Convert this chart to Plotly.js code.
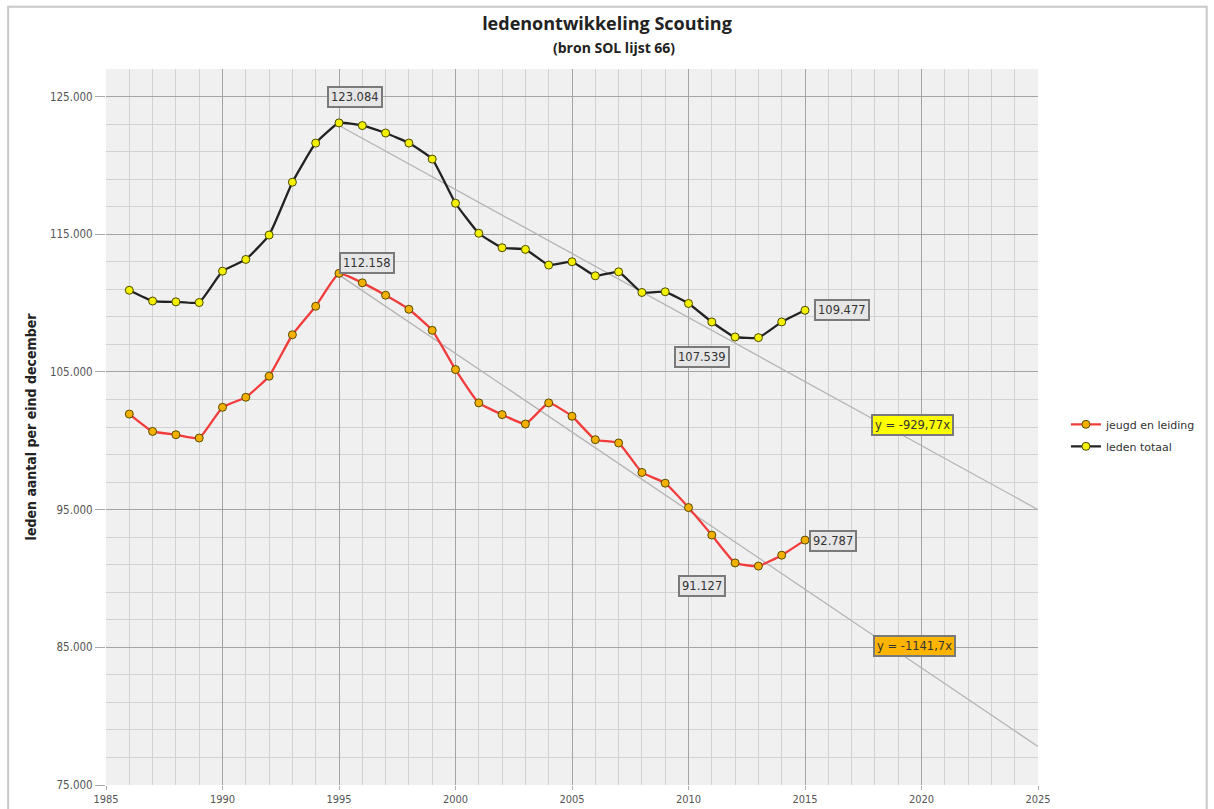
<!DOCTYPE html>
<html>
<head>
<meta charset="utf-8">
<script src="https://cdn.plot.ly/plotly-3.0.1.min.js"></script>
<style>html,body{margin:0;padding:0;background:#fff;}#chart{width:1214px;height:809px;}</style>
</head>
<body>
<div id="chart"></div>
<script>
const years = [1986,1987,1988,1989,1990,1991,1992,1993,1994,1995,1996,1997,1998,1999,2000,2001,2002,2003,2004,2005,2006,2007,2008,2009,2010,2011,2012,2013,2014,2015];
const ledenTotaal = [110930,110150,110090,110040,112320,113170,114940,118780,121620,123084,122890,122350,121620,120460,117250,115070,114020,113900,112760,113000,111980,112270,110770,110820,109970,108630,107539,107490,108630,109477];
const jeugdEnLeiding = [101940,100680,100440,100200,102430,103160,104690,107700,109770,112158,111470,110570,109550,108020,105170,102750,101900,101220,102750,101780,100080,99840,97700,96920,95150,93150,91127,90900,91690,92787];
const trendYears = [1995, 2025];
const trendTotaal = [122900, 95000];
const trendJeugd = [112050, 77800];
const yTicks = [75000, 85000, 95000, 105000, 115000, 125000];
const xTicks = [1985, 1990, 1995, 2000, 2005, 2010, 2015, 2020, 2025];

const labelFont = {family: 'DejaVu Sans', size: 11.5, color: '#333'};
function box(x, y, text, bg) {
  return {x: x, y: y, xref: 'x', yref: 'y', text: text, showarrow: false,
    bgcolor: bg || '#e6e6e6', bordercolor: '#7a7a7a', borderwidth: 2, borderpad: 2,
    font: labelFont};
}

const traces = [
  {x: trendYears, y: trendTotaal, mode: 'lines', line: {color: '#b4b4b4', width: 1.3}, showlegend: false, hoverinfo: 'skip'},
  {x: trendYears, y: trendJeugd, mode: 'lines', line: {color: '#b4b4b4', width: 1.3}, showlegend: false, hoverinfo: 'skip'},
  {x: years, y: jeugdEnLeiding, name: 'jeugd en leiding', legendgroup: 'a', mode: 'lines+markers',
   line: {color: '#f23c3c', width: 2.3, shape: 'spline', smoothing: 0.4},
   marker: {color: '#f2b000', size: 8, line: {color: '#5a4a00', width: 1}}},
  {x: years, y: ledenTotaal, name: 'leden totaal', legendgroup: 'b', mode: 'lines+markers',
   line: {color: '#222', width: 2.3, shape: 'spline', smoothing: 0.4},
   marker: {color: '#f5f000', size: 8, line: {color: '#4a4a00', width: 1}}}
];

const layout = {
  width: 1214, height: 809,
  margin: {l: 106, r: 176, t: 69, b: 24},
  paper_bgcolor: '#ffffff',
  plot_bgcolor: '#f0f0f0',
  separators: ',.',
  font: {family: 'Liberation Sans Narrow, DejaVu Sans Condensed, sans-serif', color: '#444'},
  title: {text: '<b>ledenontwikkeling Scouting</b>', x: 0.5, xref: 'container', y: 0.9703, yanchor: 'middle',
    font: {family: 'Open Sans, sans-serif', size: 18, color: '#222'}},
  xaxis: {range: [1985, 2025], tickvals: xTicks, tickformat: 'd', ticks: 'outside', ticklen: 4, tickcolor: '#aaa',
    showgrid: true, gridcolor: '#a4a4a4', gridwidth: 1,
    minor: {dtick: 1, tick0: 1985, showgrid: true, gridcolor: '#d2d2d2', gridwidth: 1},
    zeroline: false, showline: false, tickfont: {size: 11, color: '#555'}},
  yaxis: {range: [75000, 127000], tickvals: yTicks, tickformat: ',d', ticks: 'outside', ticklen: 10, tickcolor: '#aaa',
    showgrid: true, gridcolor: '#a4a4a4', gridwidth: 1,
    minor: {dtick: 2000, tick0: 75000, showgrid: true, gridcolor: '#d2d2d2', gridwidth: 1},
    zeroline: false, showline: false, tickfont: {size: 11.5, color: '#555'},
    title: {text: '<b>leden aantal per eind december</b>', standoff: 10,
      font: {family: 'Liberation Sans Narrow, DejaVu Sans Condensed, sans-serif', size: 14, color: '#222'}}},
  legend: {x: 1.03, y: 0.524, xanchor: 'left', yanchor: 'top', bgcolor: 'rgba(0,0,0,0)',
    font: {family: 'DejaVu Sans', size: 11, color: '#333'}, tracegroupgap: 3, itemwidth: 30},
  annotations: [
    {text: '<b>(bron SOL lijst 66)</b>', xref: 'paper', yref: 'paper', x: 0.545, y: 1.0307, yanchor: 'middle', showarrow: false,
     font: {family: 'Open Sans, sans-serif', size: 14, color: '#222'}},
    box(1995.7, 124950, '123.084'),
    box(1996.2, 112900, '112.158'),
    box(2016.6, 109470, '109.477'),
    box(2010.6, 106120, '107.539'),
    box(2016.2, 92700, '92.787'),
    box(2010.6, 89450, '91.127'),
    box(2019.6, 101170, 'y = -929,77x', '#ffff00'),
    box(2019.7, 85060, 'y = -1141,7x', '#ffb400')
  ],
  shapes: [
    {type: 'rect', xref: 'paper', yref: 'paper', x0: -0.105, x1: 1.181, y0: -0.04, y1: 1.087,
     line: {color: '#c8c8c8', width: 2}, fillcolor: 'rgba(0,0,0,0)', layer: 'below'}
  ]
};

Plotly.newPlot('chart', traces, layout, {displayModeBar: false, staticPlot: true});
</script>
</body>
</html>
